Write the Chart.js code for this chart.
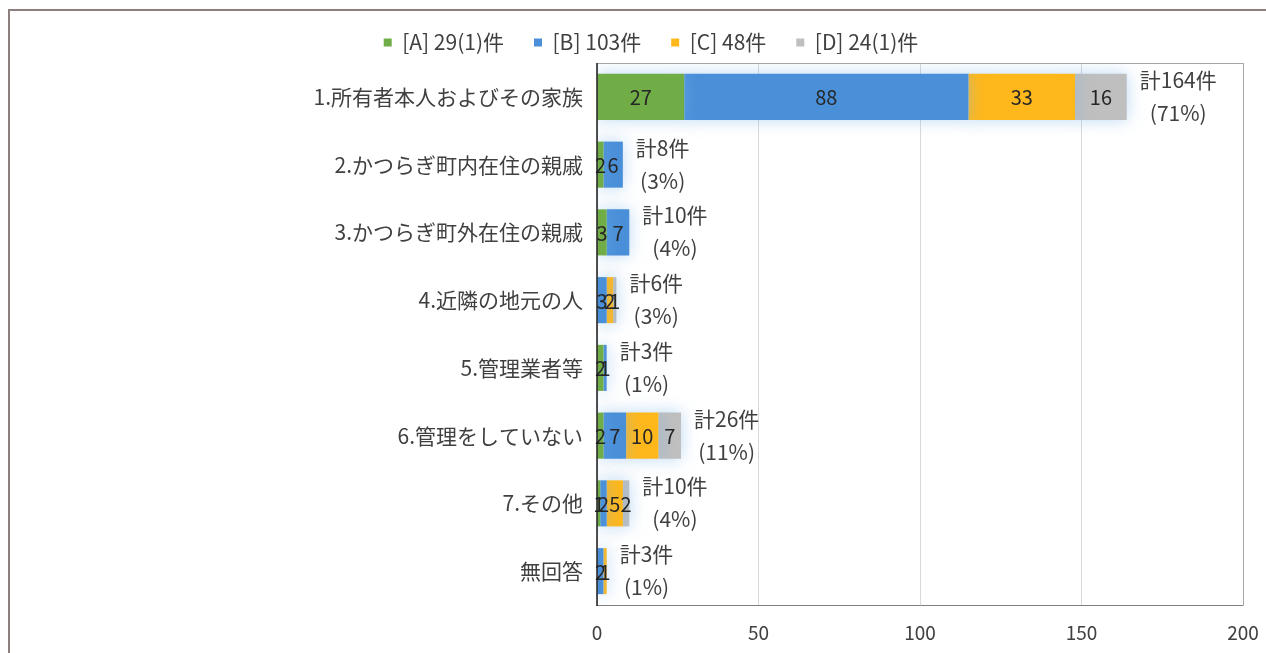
<!DOCTYPE html>
<html>
<head>
<meta charset="utf-8">
<script src="https://cdn.jsdelivr.net/npm/chart.js@4.4.1/dist/chart.umd.min.js"></script>
<style>
  body { margin: 0; background: #fff; }
  #wrap { position: relative; width: 1266px; height: 653px; overflow: hidden; }
  #frame { position: absolute; left: 8px; top: 9px; width: 1300px; height: 700px;
           border-left: 2px solid #8c7f7d; border-top: 2px solid #8c7f7d; }
  canvas { position: absolute; left: 0; top: 0; }
</style>
</head>
<body>
<div id="wrap">
  <div id="frame"></div>
  <canvas id="chart" width="1266" height="653"></canvas>
</div>
<script>
// カテゴリ
const categories = [
    '1.所有者本人およびその家族',
    '2.かつらぎ町内在住の親戚',
    '3.かつらぎ町外在住の親戚',
    '4.近隣の地元の人',
    '5.管理業者等',
    '6.管理をしていない',
    '7.その他',
    '無回答'
];

// 系列ごとの件数
const seriesA = [27, 2, 3, 0, 2, 2, 1, 0];
const seriesB = [88, 6, 7, 3, 1, 7, 2, 2];
const seriesC = [33, 0, 0, 2, 0, 10, 5, 1];
const seriesD = [16, 0, 0, 1, 0, 7, 2, 0];

const seriesNames = ['[A] 29(1)件', '[B] 103件', '[C] 48件', '[D] 24(1)件'];
const seriesColors = ['#70ad47', '#4a90d9', '#ffb81c', '#bfbfbf'];

// 割合（図から）
const percents = ['71%', '3%', '4%', '3%', '1%', '11%', '4%', '1%'];

const xTicks = [0, 50, 100, 150, 200];

const FONT = "'Noto Sans CJK JP', 'Noto Sans', sans-serif";

const allSeries = [seriesA, seriesB, seriesC, seriesD];

// 凡例の高さと位置を調整
const legendHeight = {
    id: 'legendHeight',
    afterInit(chart) {
        const fit = chart.legend.fit;
        chart.legend.fit = function () {
            fit.call(this);
            this.height = 61;
        };
    },
    afterLayout(chart) {
        chart.legend.left += 18;
        chart.legend.right += 18;
    }
};

// 棒の周りの淡い影と数値ラベル
const labelPlugin = {
    id: 'labelPlugin',
    beforeDatasetsDraw(chart) {
        const ctx = chart.ctx;
        ctx.save();
        ctx.shadowColor = 'rgba(120, 180, 235, 0.5)';
        ctx.shadowBlur = 16;
    },
    afterDatasetsDraw(chart) {
        const ctx = chart.ctx;
        ctx.restore();
        ctx.save();
        ctx.font = '20px ' + FONT;
        ctx.fillStyle = '#262626';
        ctx.textAlign = 'center';
        ctx.textBaseline = 'middle';
        chart.data.datasets.forEach((ds, di) => {
            const meta = chart.getDatasetMeta(di);
            meta.data.forEach((bar, i) => {
                const v = ds.data[i];
                if (!v) return;
                const p = bar.getCenterPoint();
                ctx.fillText(String(v), p.x, p.y + 1);
            });
        });
        // 合計
        const xs = chart.scales.x;
        const ys = chart.scales.y;
        ctx.fillStyle = '#404040';
        ctx.font = '21px ' + FONT;
        categories.forEach((c, i) => {
            let total = 0;
            allSeries.forEach(s => total += s[i]);
            const end = xs.getPixelForValue(total);
            const y = ys.getPixelForValue(i);
            const t1 = '計' + total + '件';
            const t2 = '(' + percents[i] + ')';
            const w = ctx.measureText(t1).width;
            const cx = end + 13 + w / 2;
            ctx.fillText(t1, cx, y - 17);
            ctx.fillText(t2, cx, y + 16);
        });
        ctx.restore();
    },
    afterDraw(chart) {
        const ctx = chart.ctx;
        const a = chart.chartArea;
        ctx.save();
        ctx.lineWidth = 1;
        ctx.strokeStyle = '#a6a6a6';
        ctx.beginPath();
        ctx.moveTo(a.left, a.top + 0.5);
        ctx.lineTo(a.right + 0.5, a.top + 0.5);
        ctx.lineTo(a.right + 0.5, a.bottom);
        ctx.stroke();
        ctx.strokeStyle = '#7f7f7f';
        ctx.beginPath();
        ctx.moveTo(a.left, a.bottom + 0.5);
        ctx.lineTo(a.right + 0.5, a.bottom + 0.5);
        ctx.stroke();
        ctx.strokeStyle = '#1a1a1a';
        ctx.lineWidth = 1.5;
        ctx.beginPath();
        ctx.moveTo(a.left, a.top);
        ctx.lineTo(a.left, a.bottom + 1);
        ctx.stroke();
        ctx.restore();
    }
};

const ctx = document.getElementById('chart').getContext('2d');

const myChart = new Chart(ctx, {
    type: 'bar',
    data: {
        labels: categories,
        datasets: allSeries.map((s, i) => ({
            label: seriesNames[i],
            data: s,
            backgroundColor: seriesColors[i],
            borderWidth: 0,
            barPercentage: 0.68,
            categoryPercentage: 1
        }))
    },
    options: {
        indexAxis: 'y',
        responsive: false,
        animation: false,
        layout: { padding: { top: 2, right: 0, bottom: 0, left: 0 } },
        plugins: {
            legend: {
                position: 'top',
                labels: {
                    font: { family: FONT, size: 21 },
                    color: '#404040',
                    boxWidth: 8,
                    boxHeight: 8,
                    padding: 30
                }
            },
            tooltip: { enabled: false }
        },
        scales: {
            x: {
                stacked: true,
                min: 0,
                max: 200,
                afterBuildTicks(scale) {
                    scale.ticks = xTicks.map(v => ({ value: v }));
                },
                afterFit(scale) {
                    scale.height = 48;
                    scale.paddingRight = 23;
                },
                ticks: {
                    font: { family: FONT, size: 19 },
                    color: '#404040',
                    padding: 16
                },
                grid: { color: '#d9d9d9', drawTicks: false },
                border: { display: false }
            },
            y: {
                stacked: true,
                afterFit(scale) { scale.width = 597; },
                ticks: {
                    font: { family: FONT, size: 21 },
                    color: '#404040',
                    padding: 14
                },
                grid: { display: false, drawTicks: false },
                border: { display: false }
            }
        }
    },
    plugins: [legendHeight, labelPlugin]
});
</script>
</body>
</html>
